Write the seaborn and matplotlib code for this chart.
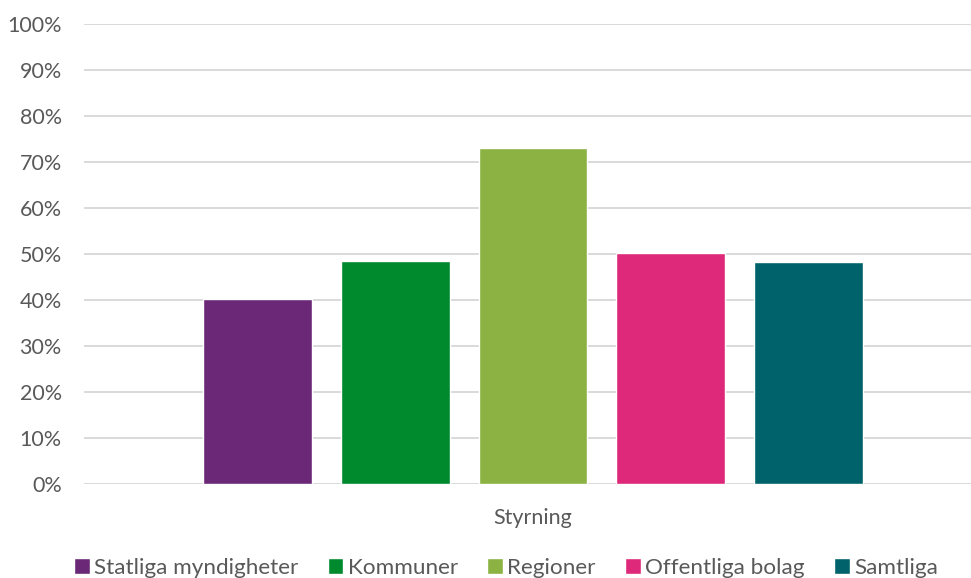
import matplotlib
matplotlib.use("Agg")
import matplotlib.pyplot as plt
import matplotlib.ticker as mtick
import seaborn as sns
import pandas as pd

# data
kategori = ["Styrning"]
organisationer = ["Statliga myndigheter", "Kommuner", "Regioner", "Offentliga bolag", "Samtliga"]
andelar = [0.402, 0.485, 0.730, 0.502, 0.483]
farger = ["#6A2876", "#008A2E", "#8BB243", "#DE287A", "#00636B"]

df = pd.DataFrame({
    "kategori": kategori * len(organisationer),
    "organisation": organisationer,
    "andel": andelar,
})

sns.set_theme(style="white")
plt.rcParams["font.family"] = ["Lato", "DejaVu Sans"]

fig = plt.figure(figsize=(9.71, 5.78), dpi=100)
ax = fig.add_axes([84 / 971, 1 - 484 / 578, 1 - 84 / 971, (484 - 24) / 578])

sns.barplot(data=df, x="kategori", y="andel", hue="organisation",
            hue_order=organisationer, palette=farger, width=0.768, gap=0.21,
            saturation=1, ax=ax, legend=True)

ax.set_ylim(0, 1)
ax.set_xlim(-0.5, 0.5 - 11 / 898)
ax.yaxis.set_major_locator(mtick.MultipleLocator(0.1))
ax.yaxis.set_major_formatter(mtick.PercentFormatter(1.0, decimals=0))
ax.grid(axis="y", color="#D9D9D9", linewidth=1.4)
ax.set_axisbelow(True)
for s in ax.spines.values():
    s.set_visible(False)
ax.tick_params(axis="y", length=0, pad=16, labelsize=15.5, labelcolor="#595959")
ax.tick_params(axis="x", length=0, pad=17, labelsize=15.5, labelcolor="#595959")
ax.set_xlabel("")
ax.set_ylabel("")

handles, labels = ax.get_legend_handles_labels()
ax.get_legend().remove()
fig.legend(handles, labels, loc="lower center", ncol=5, frameon=False,
           bbox_to_anchor=(506 / 971, -0.035), fontsize=16.2, handlelength=0.7,
           handleheight=0.7, handletextpad=0.2, columnspacing=1.3,
           labelcolor="#595959")

fig.savefig("out.png", dpi=100)
